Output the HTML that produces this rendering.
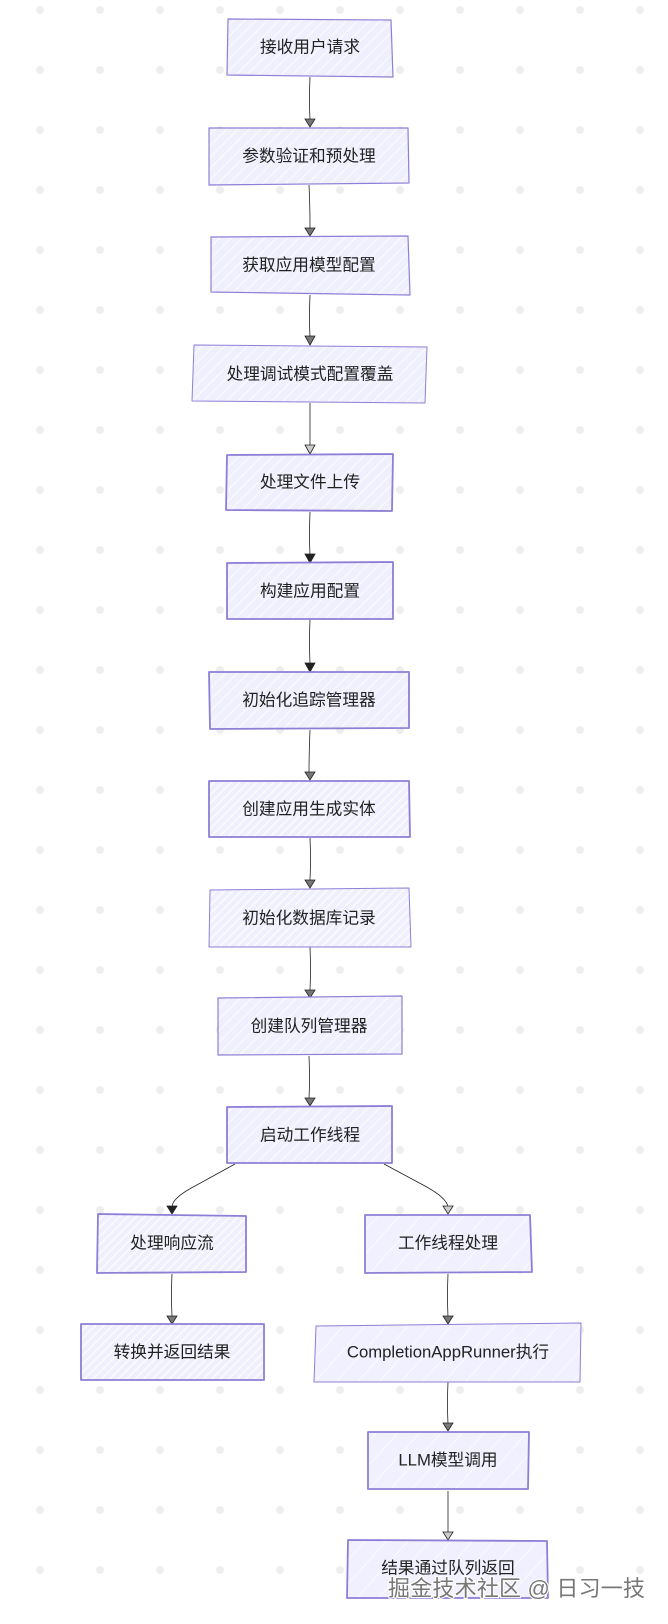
<!DOCTYPE html>
<html lang="zh">
<head>
<meta charset="utf-8">
<title>流程图</title>
<style>
html,body{margin:0;padding:0;background:#fff;width:668px;height:1624px;overflow:hidden}
svg{display:block;filter:blur(.25px)}
.n{stroke:#8f7ed6;stroke-width:1.2;stroke-linejoin:round}
.b{stroke-width:1.8}
.l{stroke-width:1}
.t{font-family:"Liberation Sans","Noto Sans CJK SC",sans-serif;font-size:16.7px;fill:#222;text-anchor:middle;dominant-baseline:central}
.e{fill:none;stroke:#222;stroke-width:.8}
.a{stroke:#222;stroke-width:.8;fill:#777}
.s{stroke:#222;stroke-width:.8;fill:#222}
.h{stroke:#222;stroke-width:.8;fill:#ccc}
.w{font-family:"Liberation Sans","Noto Sans CJK SC",sans-serif;font-size:22px;fill:#777;stroke:#fff;stroke-width:2.2;paint-order:stroke}
</style>
</head>
<body>
<svg width="668" height="1624" viewBox="0 0 668 1624" xmlns="http://www.w3.org/2000/svg">
<defs>
<pattern id="dots" x="10" y="-20" width="60" height="60" patternUnits="userSpaceOnUse"><circle cx="30" cy="30" r="4" fill="#eeeeee"/></pattern>
<pattern id="pa" width="6" height="6" patternUnits="userSpaceOnUse" patternTransform="rotate(-45)"><rect width="6" height="6" fill="#eeeefe" fill-opacity=".93"/><rect y="2" width="6" height="1.5" fill="#fbfbff"/></pattern>
<pattern id="pb" width="8" height="8" patternUnits="userSpaceOnUse" patternTransform="rotate(-45)"><rect width="8" height="8" fill="#eeeefe" fill-opacity=".93"/><rect y="3" width="8" height="1.3" fill="#f9f9ff"/></pattern>
<pattern id="pc" width="16" height="16" patternUnits="userSpaceOnUse" patternTransform="rotate(-48)"><rect width="16" height="16" fill="#efeffe" fill-opacity=".95"/><rect y="6" width="16" height="1" fill="#fafaff"/></pattern>
</defs>
<rect width="668" height="1624" fill="#fff"/>
<rect width="668" height="1624" fill="url(#dots)"/>

<!-- edges -->
<path class="e" d="M310 77 Q309 100 310 120"/>
<path class="e" d="M309 185 Q310 205 310 228"/>
<path class="e" d="M310 295 Q309 318 310 337"/>
<path class="e" d="M310 403 Q310 425 310 446"/>
<path class="e" d="M310 512 Q309 535 310 555"/>
<path class="e" d="M310 620 Q309 642 310 664"/>
<path class="e" d="M310 730 Q309 752 309 773"/>
<path class="e" d="M310 838 Q311 860 310 880"/>
<path class="e" d="M310 947 Q311 970 310 990"/>
<path class="e" d="M309 1056 Q310 1078 309 1099"/>
<path class="e" d="M235 1164 L195 1186 Q172 1198 172 1207"/>
<path class="e" d="M384 1164 L425 1186 Q447 1198 448 1207"/>
<path class="e" d="M172 1274 Q171 1296 172 1316"/>
<path class="e" d="M448 1274 Q447 1296 448 1317"/>
<path class="e" d="M448 1382 Q447 1404 448 1424"/>
<path class="e" d="M448 1491 L448 1532"/>

<!-- arrowheads -->
<polygon class="a" points="305,119 315,119 310,127"/>
<polygon class="a" points="305,228 315,228 310,236"/>
<polygon class="a" points="305,336 315,336 310,345"/>
<polygon class="h" points="305,445 315,445 310,454"/>
<polygon class="s" points="305,554 315,554 310,563"/>
<polygon class="s" points="305,663 315,663 310,672"/>
<polygon class="a" points="305,772 315,772 310,780"/>
<polygon class="a" points="305,880 315,880 310,888"/>
<polygon class="a" points="305,990 315,990 310,998"/>
<polygon class="a" points="305,1098 315,1098 310,1106"/>
<polygon class="s" points="167,1206 177,1206 172,1214"/>
<polygon class="h" points="443,1206 453,1206 448,1214"/>
<polygon class="a" points="167,1316 177,1316 172,1324"/>
<polygon class="a" points="443,1316 453,1316 448,1324"/>
<polygon class="a" points="443,1423 453,1423 448,1431"/>
<polygon class="h" points="443,1532 453,1532 448,1540"/>

<!-- nodes -->
<polygon class="n" fill="url(#pb)" points="228,19 391,20 393,77 227,75"/>
<text class="t" x="310" y="47">接收用户请求</text>
<polygon class="n" fill="url(#pb)" points="209,128 408,128 409,183 209,185"/>
<text class="t" x="309" y="156">参数验证和预处理</text>
<polygon class="n" fill="url(#pb)" points="211,237 408,236 410,295 211,292"/>
<text class="t" x="309" y="265">获取应用模型配置</text>
<polygon class="n l" fill="url(#pb)" points="194,345 427,347 425,403 192,401"/>
<text class="t" x="310" y="374">处理调试模式配置覆盖</text>
<polygon class="n b" fill="url(#pb)" points="227,455 393,454 392,511 226,510"/>
<text class="t" x="310" y="482">处理文件上传</text>
<polygon class="n b" fill="url(#pb)" points="227,563 393,562 393,619 227,619"/>
<text class="t" x="310" y="591">构建应用配置</text>
<polygon class="n b" fill="url(#pb)" points="209,672 409,672 409,728 210,729"/>
<text class="t" x="309" y="700">初始化追踪管理器</text>
<polygon class="n b" fill="url(#pa)" points="209,781 409,781 410,837 209,837"/>
<text class="t" x="309" y="809">创建应用生成实体</text>
<polygon class="n l" fill="url(#pa)" points="210,890 409,888 411,947 209,947"/>
<text class="t" x="309" y="918">初始化数据库记录</text>
<polygon class="n" fill="url(#pb)" points="218,998 402,996 402,1054 218,1055"/>
<text class="t" x="309" y="1026">创建队列管理器</text>
<polygon class="n b" fill="url(#pb)" points="227,1107 392,1106 392,1163 227,1163"/>
<text class="t" x="310" y="1135">启动工作线程</text>
<polygon class="n b" fill="url(#pa)" points="98,1214 246,1216 246,1272 97,1273"/>
<text class="t" x="172" y="1243">处理响应流</text>
<polygon class="n b" fill="url(#pc)" points="365,1215 530,1215 532,1272 365,1273"/>
<text class="t" x="448" y="1243">工作线程处理</text>
<polygon class="n b" fill="url(#pa)" points="81,1324 264,1324 264,1380 81,1380"/>
<text class="t" x="172" y="1352">转换并返回结果</text>
<polygon class="n l" fill="url(#pc)" points="316,1326 581,1323 580,1382 314,1382"/>
<text class="t" x="448" y="1352">CompletionAppRunner执行</text>
<polygon class="n b" fill="url(#pc)" points="368,1432 529,1432 528,1489 368,1489"/>
<text class="t" x="448" y="1460">LLM模型调用</text>
<polygon class="n b" fill="url(#pc)" points="348,1540 547,1541 548,1598 347,1598"/>
<text class="t" x="448" y="1568">结果通过队列返回</text>

<!-- watermark -->
<text class="w" x="388" y="1596" textLength="257" lengthAdjust="spacing">掘金技术社区 @ 日习一技</text>
</svg>
</body>
</html>
